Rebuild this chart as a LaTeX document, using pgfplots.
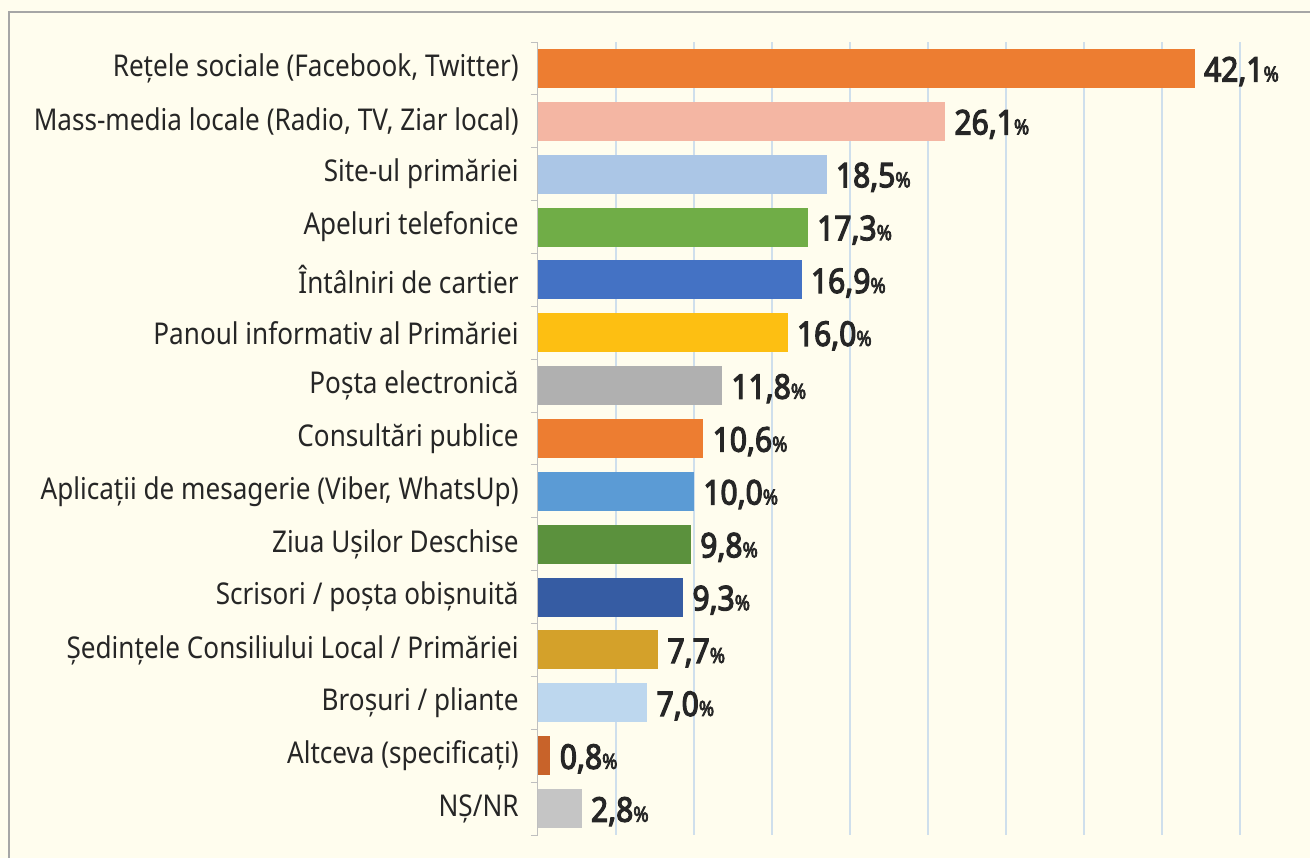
\documentclass[border=0pt]{standalone}
\usepackage{fontspec}
\setmainfont{Noto Sans}[FakeStretch=0.87]
\newfontfamily\valfont{Noto Sans}[FakeStretch=0.88, FakeBold=3.5]
\usepackage{pgfplots}
\pgfplotsset{compat=1.18}

\definecolor{bg}{HTML}{FFFDEE}
\definecolor{frame}{HTML}{A6A6A6}
\definecolor{gridc}{HTML}{CFDFEC}
\definecolor{axisc}{HTML}{BFBFBF}
\definecolor{txt}{HTML}{262626}
\definecolor{c1}{HTML}{ED7D31}
\definecolor{c2}{HTML}{F4B6A3}
\definecolor{c3}{HTML}{ABC6E6}
\definecolor{c4}{HTML}{70AD47}
\definecolor{c5}{HTML}{4472C4}
\definecolor{c6}{HTML}{FDBF12}
\definecolor{c7}{HTML}{B0B0B0}
\definecolor{c8}{HTML}{ED7D31}
\definecolor{c9}{HTML}{5B9BD5}
\definecolor{c10}{HTML}{5B913D}
\definecolor{c11}{HTML}{365CA3}
\definecolor{c12}{HTML}{D4A12A}
\definecolor{c13}{HTML}{BDD7EE}
\definecolor{c14}{HTML}{C8632A}
\definecolor{c15}{HTML}{C5C5C5}

\begin{document}
\begin{tikzpicture}
% background and frame (1px = 0.5pt)
\fill[bg] (-269pt,-11.5pt) rectangle (386pt,417.5pt);
\draw[frame, line width=0.6pt] (-264.5pt,-11.5pt) -- (-264.5pt,411.5pt) -- (386pt,411.5pt);
\begin{axis}[
    at={(0pt,0pt)}, anchor=south west,
    scale only axis, width=351pt, height=396.5pt,
    xbar, clip=false,
    xmin=0, xmax=45, ymin=-0.5, ymax=14.5, y dir=reverse,
    axis lines*=left,
    x axis line style={draw=none},
    y axis line style={color=axisc, line width=0.5pt},
    xtick={5,10,...,45}, xticklabels={},
    x tick style={draw=none},
    xmajorgrids, major grid style={color=gridc, line width=0.85pt},
    ytick={0,...,14},
    minor ytick={-0.5,0.5,...,14.5},
    major tick length=0pt, minor tick length=3.5pt, tick align=outside,
    minor y tick style={color=axisc, line width=0.5pt},
    yticklabel style={font=\fontsize{15}{18}\selectfont, text=txt, inner sep=0pt, xshift=-9.5pt},
    yticklabels={
        {Rețele sociale (Facebook, Twitter)},
        {Mass-media locale (Radio, TV, Ziar local)},
        {Site-ul primăriei},
        {Apeluri telefonice},
        {Întâlniri de cartier},
        {Panoul informativ al Primăriei},
        {Poșta electronică},
        {Consultări publice},
        {Aplicații de mesagerie (Viber, WhatsUp)},
        {Ziua Ușilor Deschise},
        {Scrisori / poșta obișnuită},
        {Ședințele Consiliului Local / Primăriei},
        {Broșuri / pliante},
        {Altceva (specificați)},
        {NȘ/NR}},
    every axis plot post/.append style={bar shift=0pt, bar width=19.5pt, draw=none, point meta=x},
    nodes near coords={\valfont\fontsize{17}{20}\selectfont\pgfmathprintnumber[fixed, fixed zerofill, precision=1, use comma, assume math mode=true]{\pgfplotspointmeta}{\fontsize{10.5}{12}\selectfont\%}},
    nodes near coords style={text=txt, anchor=west, inner sep=0pt, xshift=4.5pt, yshift=-1.5pt},
]
\addplot[fill=c1]  coordinates {(42.1,0)};
\addplot[fill=c2]  coordinates {(26.1,1)};
\addplot[fill=c3]  coordinates {(18.5,2)};
\addplot[fill=c4]  coordinates {(17.3,3)};
\addplot[fill=c5]  coordinates {(16.9,4)};
\addplot[fill=c6]  coordinates {(16.0,5)};
\addplot[fill=c7]  coordinates {(11.8,6)};
\addplot[fill=c8]  coordinates {(10.6,7)};
\addplot[fill=c9]  coordinates {(10.0,8)};
\addplot[fill=c10] coordinates {(9.8,9)};
\addplot[fill=c11] coordinates {(9.3,10)};
\addplot[fill=c12] coordinates {(7.7,11)};
\addplot[fill=c13] coordinates {(7.0,12)};
\addplot[fill=c14] coordinates {(0.8,13)};
\addplot[fill=c15] coordinates {(2.8,14)};
\end{axis}
\pgfresetboundingbox
\useasboundingbox (-269pt,-11.5pt) rectangle (386pt,417.5pt);
\end{tikzpicture}
\end{document}
